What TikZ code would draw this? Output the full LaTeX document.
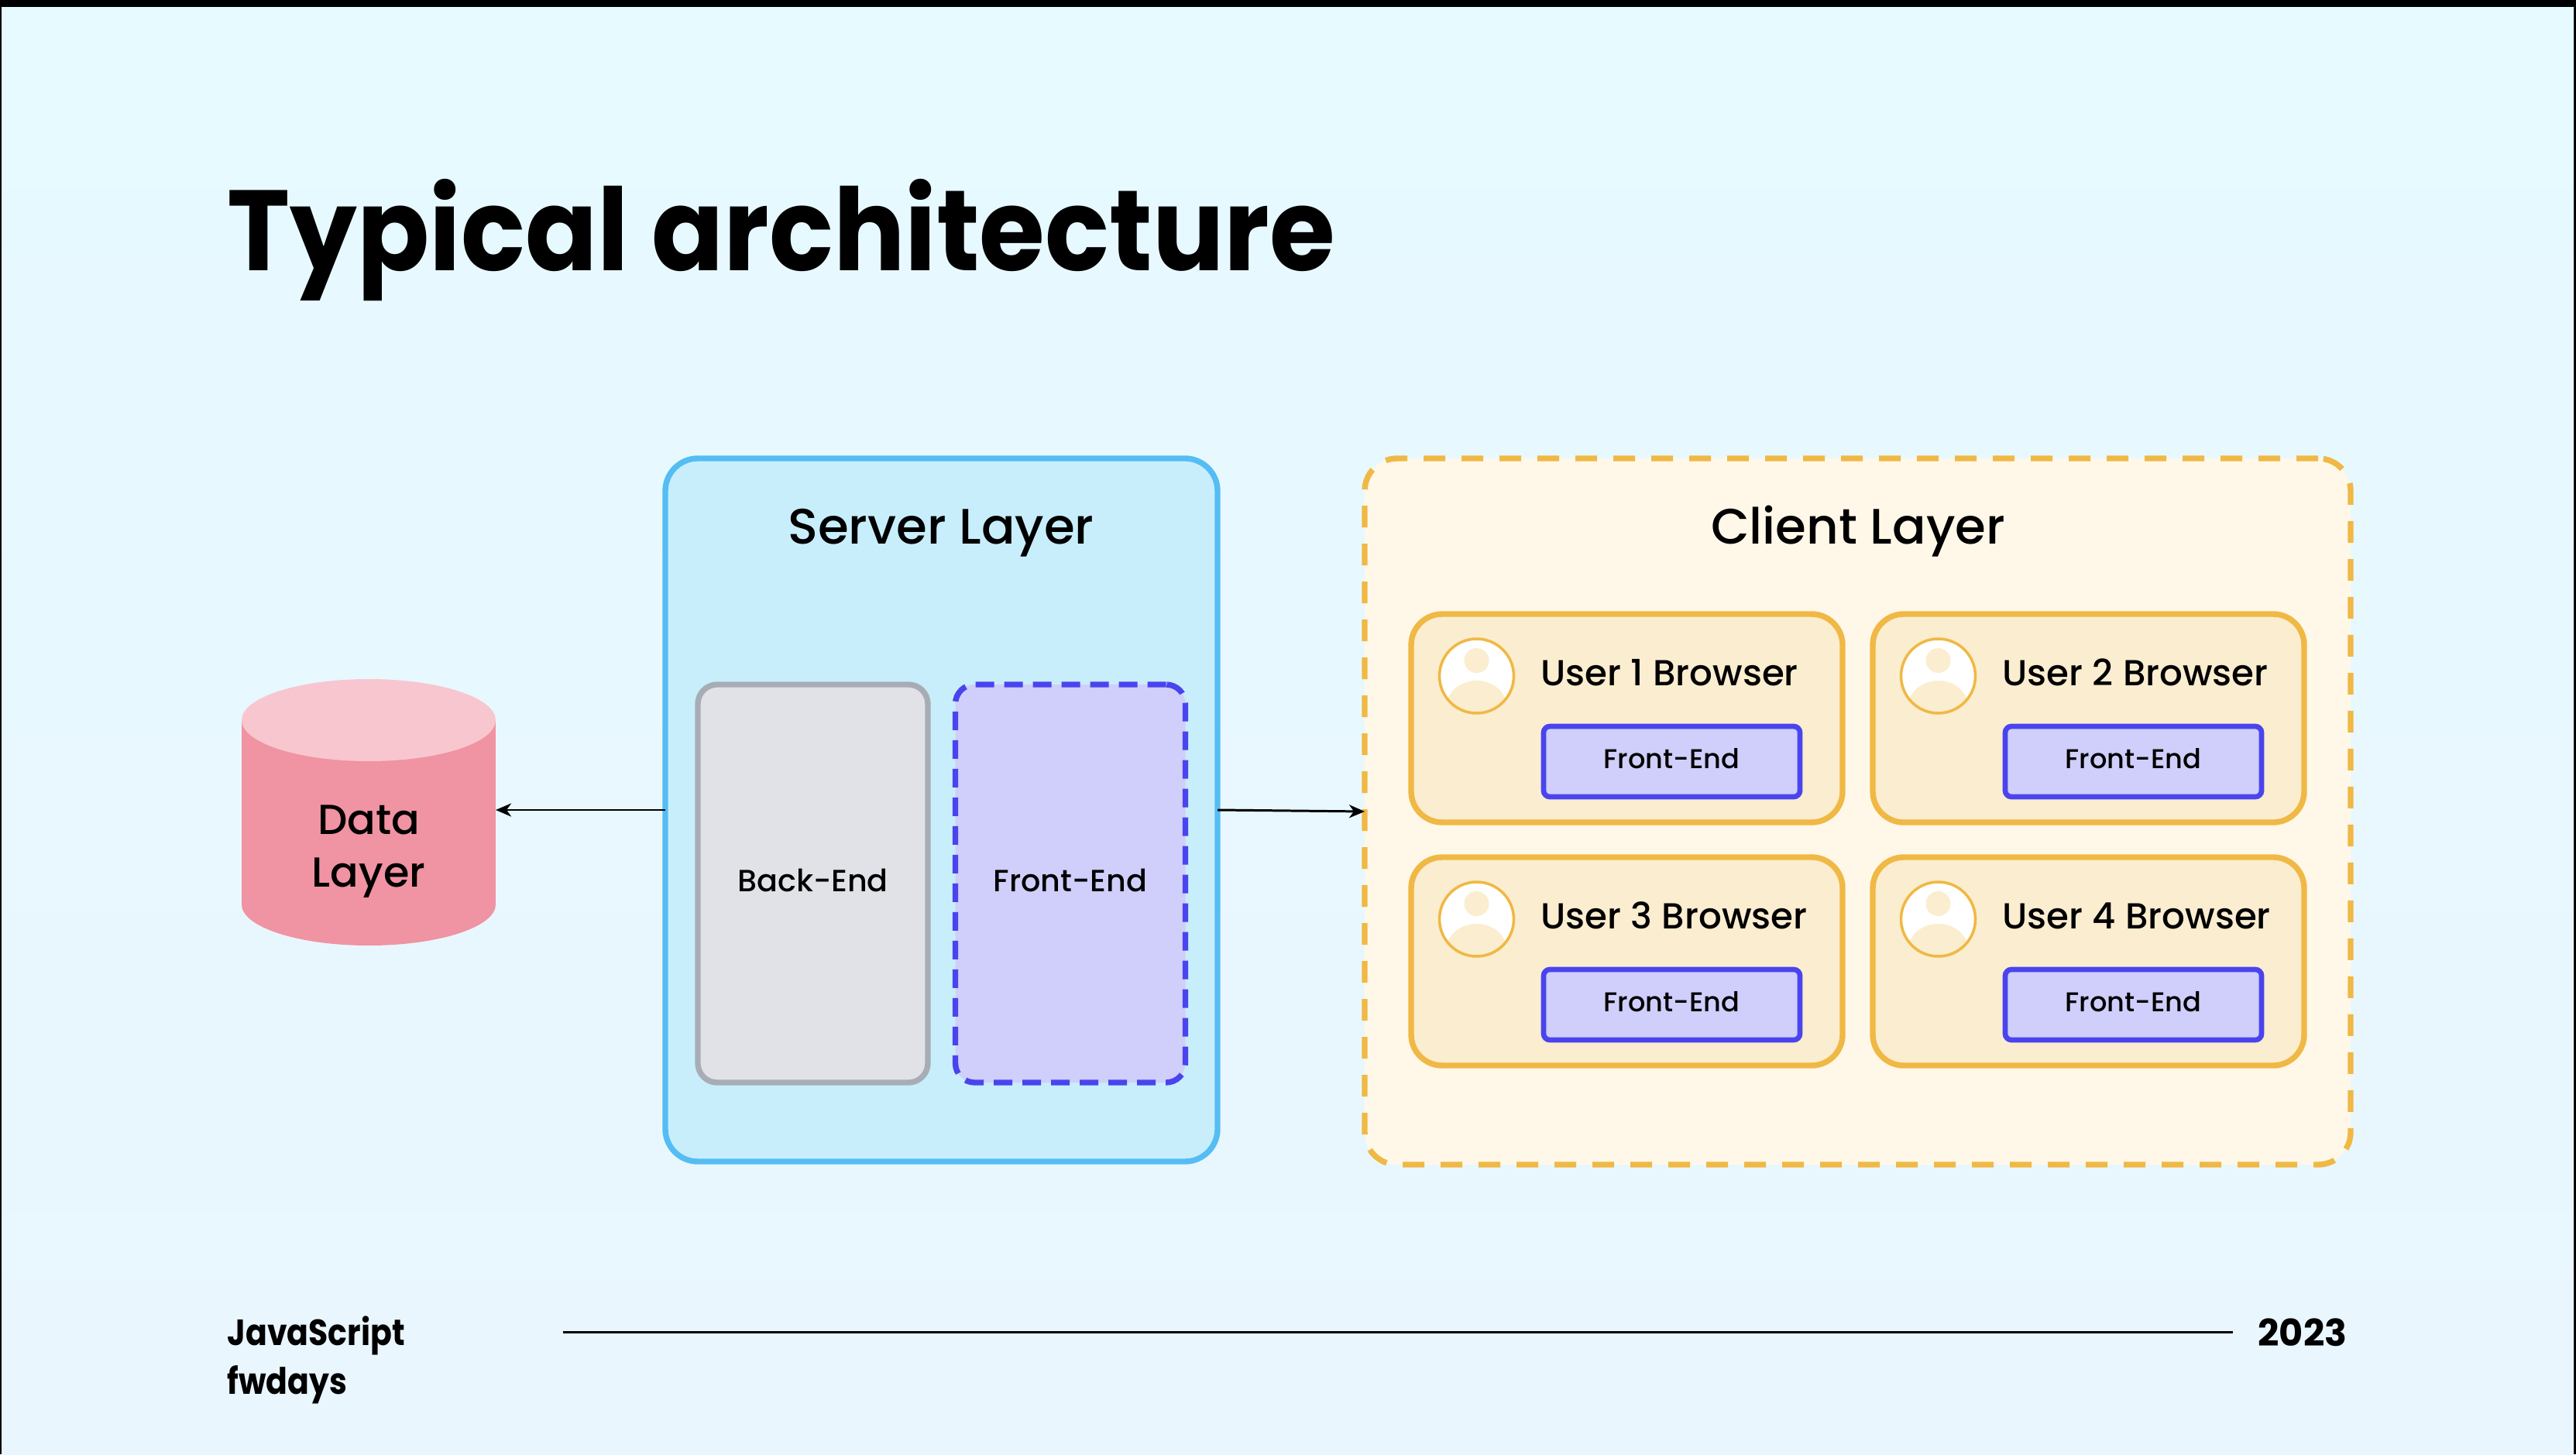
\documentclass[tikz,border=0pt]{standalone}
\usepackage{fontspec}
\setmainfont{Poppins}[UprightFont=* Medium, BoldFont=* Bold]
\newfontfamily\titlefont{Poppins Bold}[FakeStretch=0.93]
\newfontfamily\footerfont{Poppins Bold}[FakeStretch=0.87]
\usetikzlibrary{arrows.meta, positioning, shapes.geometric, calc}
\definecolor{slidebg}{RGB}{230, 250, 255}
\definecolor{slidebgb}{RGB}{233, 246, 254}
\definecolor{serverline}{RGB}{85, 189, 243}
\definecolor{serverfill}{RGB}{200, 238, 252}
\definecolor{clientline}{RGB}{240, 184, 68}
\definecolor{clientfill}{RGB}{255, 248, 232}
\definecolor{userfill}{RGB}{251, 237, 207}
\definecolor{backline}{RGB}{168, 173, 181}
\definecolor{backfill}{RGB}{224, 226, 232}
\definecolor{frontline}{RGB}{74, 68, 238}
\definecolor{frontfill}{RGB}{208, 206, 250}
\definecolor{dbbody}{RGB}{240, 147, 163}
\definecolor{dbtop}{RGB}{248, 198, 207}

\begin{document}
\begin{tikzpicture}[
    box/.style={rectangle, outer sep=0pt, inner sep=0pt, line width=2.1pt},
    serverbox/.style={box, draw=serverline, fill=serverfill, minimum width=7.13cm, minimum height=9.08cm, rounded corners=4.2mm},
    clientbox/.style={box, draw=clientline, fill=clientfill, dash pattern=on 2.8mm off 2.1mm, minimum width=12.73cm, minimum height=9.12cm, rounded corners=4.2mm},
    backbox/.style={box, draw=backline, fill=backfill, minimum width=2.97cm, minimum height=5.14cm, rounded corners=2.5mm, text depth=0.8mm, font=\fontsize{11.3}{14}\selectfont},
    frontbox/.style={backbox, draw=frontline, fill=frontfill, dash pattern=on 2.4mm off 1.3mm},
    userbox/.style={box, draw=clientline, fill=userfill, minimum width=5.57cm, minimum height=2.69cm, rounded corners=4mm},
    innerbox/.style={box, line width=1.9pt, draw=frontline, fill=frontfill, minimum width=3.31cm, minimum height=0.91cm, rounded corners=0.8mm, text depth=0.8mm, font=\fontsize{10}{12}\selectfont},
    avatar/.style={circle, draw=clientline, fill=white, line width=1pt, inner sep=0pt, minimum size=9.6mm,
        path picture={
            \fill[userfill] ($(path picture bounding box.center)+(0,0.2)$) circle (1.6mm);
            \fill[userfill] ($(path picture bounding box.center)+(0,-0.4)$) ellipse (3.9mm and 3.4mm);
        }},
    usertext/.style={anchor=base west, inner sep=0pt, font=\fontsize{13.3}{16}\selectfont},
    layertext/.style={anchor=base, inner sep=0pt, font=\fontsize{18.3}{22}\selectfont},
    footertext/.style={anchor=base west, inner sep=0pt, font=\fontsize{13.4}{16}\selectfont\footerfont},
    dbpart/.style={inner sep=0pt, outer sep=0pt, minimum width=3.28cm},
    flow/.style={line width=0.85pt, -{Stealth[length=2mm, width=1.7mm, inset=0.6mm]}}
]
\useasboundingbox (0,0) rectangle (33.26,18.78);

% Slide
\fill[black] (0,0) rectangle (33.26,18.78);
\shade[top color=slidebg, bottom color=slidebgb] (0.02,0) rectangle (33.23,18.68);
\node[anchor=base west, inner sep=0pt, font=\fontsize{42}{50}\selectfont\titlefont] (title) at (2.93,15.28) {Typical architecture};

% Data layer
\node[dbpart, ellipse, fill=dbbody, minimum height=1.06cm] (databottom) at (4.76,7.10) {};
\node[dbpart, rectangle, fill=dbbody, minimum height=2.38cm] (data) at (4.76,8.29) {};
\node[dbpart, ellipse, fill=dbtop, minimum height=1.06cm] (datatop) at (4.76,9.48) {};
\node[align=center, inner sep=0pt, font=\fontsize{15.4}{19.3}\selectfont] (datatext) at (4.76,7.78) {Data\\Layer};

% Server layer
\node[serverbox] (server) at (12.155,8.32) {};
\node[layertext] (servertext) at (12.15,11.76) {Server Layer};
\node[backbox] (back) at (10.495,7.37) {Back-End};
\node[frontbox] (front) at (13.82,7.37) {Front-End};

% Client layer
\node[clientbox] (client) at (23.985,8.30) {};
\node[layertext] (clienttext) at (23.99,11.76) {Client Layer};

% User 1
\begin{scope}[shift={(21.005,9.505)}]
    \node[userbox] (user1) at (0,0) {};
    \node[avatar] (avatar1) at (-1.94,0.545) {};
    \node[usertext] (usertext1) at (-1.115,0.425) {User 1 Browser};
    \node[innerbox] (inner1) at (0.58,-0.56) {Front-End};
\end{scope}

% User 2
\begin{scope}[shift={(26.965,9.505)}]
    \node[userbox] (user2) at (0,0) {};
    \node[avatar] (avatar2) at (-1.94,0.545) {};
    \node[usertext] (usertext2) at (-1.115,0.425) {User 2 Browser};
    \node[innerbox] (inner2) at (0.58,-0.56) {Front-End};
\end{scope}

% User 3
\begin{scope}[shift={(21.005,6.365)}]
    \node[userbox] (user3) at (0,0) {};
    \node[avatar] (avatar3) at (-1.94,0.545) {};
    \node[usertext] (usertext3) at (-1.115,0.425) {User 3 Browser};
    \node[innerbox] (inner3) at (0.58,-0.56) {Front-End};
\end{scope}

% User 4
\begin{scope}[shift={(26.965,6.365)}]
    \node[userbox] (user4) at (0,0) {};
    \node[avatar] (avatar4) at (-1.94,0.545) {};
    \node[usertext] (usertext4) at (-1.115,0.425) {User 4 Browser};
    \node[innerbox] (inner4) at (0.58,-0.56) {Front-End};
\end{scope}

% Connections
\draw[flow] (server.west) -- (server.west -| data.east);
\draw[flow] (server.east) -- (client.west);

% Footer
\node[footertext] (footera) at (2.93,1.41) {JavaScript};
\node[footertext] (footerb) at (2.93,0.78) {fwdays};
\node[anchor=base east, inner sep=0pt, font=\fontsize{13.6}{16}\selectfont\bfseries] (year) at (30.31,1.40) {2023};
\coordinate (rulea) at (7.27,1.58);
\coordinate (ruleb) at (28.83,1.58);
\draw[line width=0.85pt] (rulea) -- (ruleb);

\end{tikzpicture}
\end{document}
